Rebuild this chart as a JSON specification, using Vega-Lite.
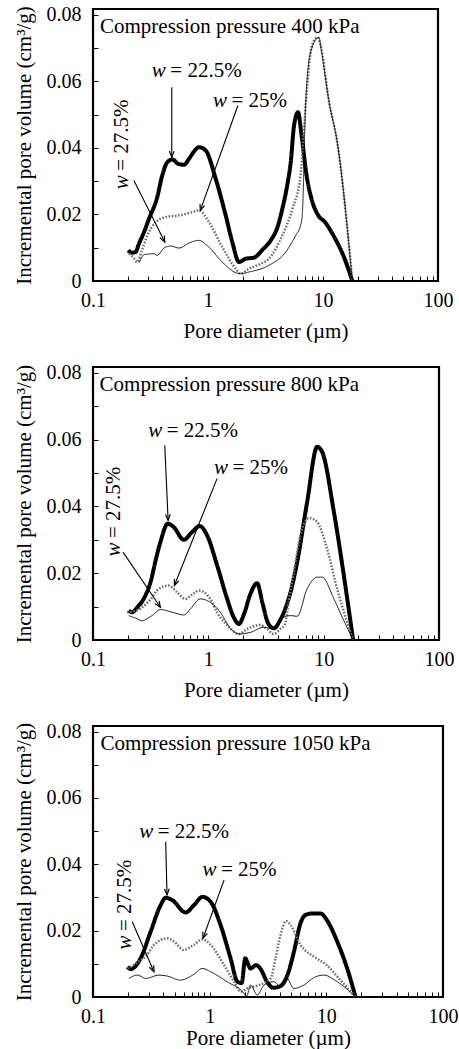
{
  "$schema": "https://vega.github.io/schema/vega-lite/v6.json",
  "background": "white",
  "padding": {"left": 11, "top": 3, "right": 5, "bottom": 5},
  "spacing": 86,
  "bounds": "flush",
  "config": {
    "font": "Liberation Serif",
    "view": {"stroke": "black", "strokeWidth": 2.2},
    "text": {"font": "Liberation Serif", "fontSize": 21, "color": "black"},
    "axis": {"labelFont": "Liberation Serif", "labelFontSize": 20, "labelColor": "black", "titleFont": "Liberation Serif", "titleFontSize": 21, "titleFontWeight": "normal", "titleColor": "black", "tickColor": "black", "tickWidth": 1, "tickSize": -5, "domain": false, "grid": false, "labelFlush": false, "labelOverlap": false},
    "axisX": {"labelPadding": 24, "labelBaseline": "middle", "titlePadding": 10},
    "axisY": {"labelPadding": 17, "titlePadding": 12}
  },
  "datasets": {
    "curves": [
      {"panel":400,"w":"22.5","d":0.202,"v":0.0092},{"panel":400,"w":"22.5","d":0.218,"v":0.0085},{"panel":400,"w":"22.5","d":0.234,"v":0.0087},{"panel":400,"w":"22.5","d":0.251,"v":0.0112},{"panel":400,"w":"22.5","d":0.28,"v":0.015},{"panel":400,"w":"22.5","d":0.307,"v":0.0187},{"panel":400,"w":"22.5","d":0.362,"v":0.0252},{"panel":400,"w":"22.5","d":0.40,"v":0.0317},{"panel":400,"w":"22.5","d":0.443,"v":0.0357},{"panel":400,"w":"22.5","d":0.49,"v":0.0365},{"panel":400,"w":"22.5","d":0.55,"v":0.0352},{"panel":400,"w":"22.5","d":0.618,"v":0.0349},{"panel":400,"w":"22.5","d":0.684,"v":0.0367},{"panel":400,"w":"22.5","d":0.76,"v":0.039},{"panel":400,"w":"22.5","d":0.835,"v":0.0402},{"panel":400,"w":"22.5","d":0.955,"v":0.0392},{"panel":400,"w":"22.5","d":1.167,"v":0.0307},{"panel":400,"w":"22.5","d":1.425,"v":0.0197},{"panel":400,"w":"22.5","d":1.627,"v":0.0117},{"panel":400,"w":"22.5","d":1.86,"v":0.0057},{"panel":400,"w":"22.5","d":2.13,"v":0.0067},{"panel":400,"w":"22.5","d":2.5,"v":0.007},{"panel":400,"w":"22.5","d":3.0,"v":0.0095},{"panel":400,"w":"22.5","d":3.51,"v":0.0122},{"panel":400,"w":"22.5","d":4.0,"v":0.016},{"panel":400,"w":"22.5","d":4.43,"v":0.0217},{"panel":400,"w":"22.5","d":4.9,"v":0.029},{"panel":400,"w":"22.5","d":5.24,"v":0.0357},{"panel":400,"w":"22.5","d":5.6,"v":0.0467},{"panel":400,"w":"22.5","d":6.07,"v":0.0507},{"panel":400,"w":"22.5","d":6.5,"v":0.044},{"panel":400,"w":"22.5","d":7.2,"v":0.0317},{"panel":400,"w":"22.5","d":7.94,"v":0.0247},{"panel":400,"w":"22.5","d":9.1,"v":0.0197},{"panel":400,"w":"22.5","d":10.4,"v":0.0177},{"panel":400,"w":"22.5","d":12.3,"v":0.0137},{"panel":400,"w":"22.5","d":15.0,"v":0.0077},{"panel":400,"w":"22.5","d":18,"v":0},
      {"panel":400,"w":"25","d":0.206,"v":0.0082},{"panel":400,"w":"25","d":0.225,"v":0.007},{"panel":400,"w":"25","d":0.243,"v":0.0057},{"panel":400,"w":"25","d":0.265,"v":0.009},{"panel":400,"w":"25","d":0.297,"v":0.0137},{"panel":400,"w":"25","d":0.351,"v":0.0177},{"panel":400,"w":"25","d":0.429,"v":0.0192},{"panel":400,"w":"25","d":0.56,"v":0.0197},{"panel":400,"w":"25","d":0.70,"v":0.0205},{"panel":400,"w":"25","d":0.835,"v":0.0212},{"panel":400,"w":"25","d":1.02,"v":0.0177},{"panel":400,"w":"25","d":1.33,"v":0.0102},{"panel":400,"w":"25","d":1.74,"v":0.0037},{"panel":400,"w":"25","d":1.92,"v":0.0022},{"panel":400,"w":"25","d":2.27,"v":0.0037},{"panel":400,"w":"25","d":2.8,"v":0.005},{"panel":400,"w":"25","d":3.39,"v":0.0067},{"panel":400,"w":"25","d":4.43,"v":0.0137},{"panel":400,"w":"25","d":5.43,"v":0.0217},{"panel":400,"w":"25","d":6.38,"v":0.0317},{"panel":400,"w":"25","d":6.77,"v":0.0437},{"panel":400,"w":"25","d":7.3,"v":0.0587},{"panel":400,"w":"25","d":8.0,"v":0.0707},{"panel":400,"w":"25","d":8.92,"v":0.0732},{"panel":400,"w":"25","d":9.5,"v":0.071},{"panel":400,"w":"25","d":11.3,"v":0.0537},{"panel":400,"w":"25","d":13.3,"v":0.0417},{"panel":400,"w":"25","d":18,"v":0},
      {"panel":400,"w":"27.5","d":0.251,"v":0.0055},{"panel":400,"w":"27.5","d":0.263,"v":0.0068},{"panel":400,"w":"27.5","d":0.277,"v":0.0079},{"panel":400,"w":"27.5","d":0.339,"v":0.0082},{"panel":400,"w":"27.5","d":0.362,"v":0.0077},{"panel":400,"w":"27.5","d":0.414,"v":0.0099},{"panel":400,"w":"27.5","d":0.473,"v":0.0105},{"panel":400,"w":"27.5","d":0.56,"v":0.0099},{"panel":400,"w":"27.5","d":0.684,"v":0.0114},{"panel":400,"w":"27.5","d":0.835,"v":0.0122},{"panel":400,"w":"27.5","d":0.98,"v":0.0107},{"panel":400,"w":"27.5","d":1.33,"v":0.0057},{"panel":400,"w":"27.5","d":1.74,"v":0.0025},{"panel":400,"w":"27.5","d":1.92,"v":0.0022},{"panel":400,"w":"27.5","d":2.27,"v":0.0027},{"panel":400,"w":"27.5","d":3.39,"v":0.0047},{"panel":400,"w":"27.5","d":4.74,"v":0.0087},{"panel":400,"w":"27.5","d":5.79,"v":0.0137},{"panel":400,"w":"27.5","d":6.38,"v":0.0167},{"panel":400,"w":"27.5","d":6.6,"v":0.0197},{"panel":400,"w":"27.5","d":7.07,"v":0.0537},{"panel":400,"w":"27.5","d":7.8,"v":0.0687},{"panel":400,"w":"27.5","d":9.23,"v":0.0732},{"panel":400,"w":"27.5","d":9.6,"v":0.07},{"panel":400,"w":"27.5","d":11.3,"v":0.0537},{"panel":400,"w":"27.5","d":13.3,"v":0.0417},{"panel":400,"w":"27.5","d":18,"v":0},
      {"panel":800,"w":"22.5","d":0.204,"v":0.0088},{"panel":800,"w":"22.5","d":0.218,"v":0.0083},{"panel":800,"w":"22.5","d":0.245,"v":0.01},{"panel":800,"w":"22.5","d":0.275,"v":0.0123},{"panel":800,"w":"22.5","d":0.318,"v":0.0178},{"panel":800,"w":"22.5","d":0.35,"v":0.024},{"panel":800,"w":"22.5","d":0.384,"v":0.0293},{"panel":800,"w":"22.5","d":0.445,"v":0.0348},{"panel":800,"w":"22.5","d":0.501,"v":0.0338},{"panel":800,"w":"22.5","d":0.612,"v":0.03},{"panel":800,"w":"22.5","d":0.723,"v":0.0323},{"panel":800,"w":"22.5","d":0.843,"v":0.0341},{"panel":800,"w":"22.5","d":0.976,"v":0.0313},{"panel":800,"w":"22.5","d":1.2,"v":0.022},{"panel":800,"w":"22.5","d":1.45,"v":0.0125},{"panel":800,"w":"22.5","d":1.65,"v":0.007},{"panel":800,"w":"22.5","d":1.84,"v":0.0048},{"panel":800,"w":"22.5","d":2.05,"v":0.008},{"panel":800,"w":"22.5","d":2.3,"v":0.0135},{"panel":800,"w":"22.5","d":2.65,"v":0.017},{"panel":800,"w":"22.5","d":2.95,"v":0.011},{"panel":800,"w":"22.5","d":3.3,"v":0.005},{"panel":800,"w":"22.5","d":3.7,"v":0.0035},{"panel":800,"w":"22.5","d":4.2,"v":0.006},{"panel":800,"w":"22.5","d":4.83,"v":0.011},{"panel":800,"w":"22.5","d":5.16,"v":0.0143},{"panel":800,"w":"22.5","d":5.89,"v":0.0233},{"panel":800,"w":"22.5","d":7.19,"v":0.0413},{"panel":800,"w":"22.5","d":8.79,"v":0.0578},{"panel":800,"w":"22.5","d":9.7,"v":0.0563},{"panel":800,"w":"22.5","d":12.27,"v":0.0383},{"panel":800,"w":"22.5","d":14.96,"v":0.0193},{"panel":800,"w":"22.5","d":18,"v":0},
      {"panel":800,"w":"25","d":0.197,"v":0.0083},{"panel":800,"w":"25","d":0.22,"v":0.0085},{"panel":800,"w":"25","d":0.26,"v":0.0095},{"panel":800,"w":"25","d":0.318,"v":0.0123},{"panel":800,"w":"25","d":0.371,"v":0.0153},{"panel":800,"w":"25","d":0.453,"v":0.0163},{"panel":800,"w":"25","d":0.536,"v":0.0143},{"panel":800,"w":"25","d":0.632,"v":0.0123},{"panel":800,"w":"25","d":0.72,"v":0.0135},{"panel":800,"w":"25","d":0.83,"v":0.0148},{"panel":800,"w":"25","d":1.04,"v":0.0123},{"panel":800,"w":"25","d":1.19,"v":0.0083},{"panel":800,"w":"25","d":1.5,"v":0.004},{"panel":800,"w":"25","d":1.84,"v":0.0018},{"panel":800,"w":"25","d":2.17,"v":0.0033},{"panel":800,"w":"25","d":2.83,"v":0.0045},{"panel":800,"w":"25","d":3.22,"v":0.0033},{"panel":800,"w":"25","d":3.7,"v":0.0018},{"panel":800,"w":"25","d":4.2,"v":0.0033},{"panel":800,"w":"25","d":4.6,"v":0.0045},{"panel":800,"w":"25","d":5.0,"v":0.012},{"panel":800,"w":"25","d":5.5,"v":0.02},{"panel":800,"w":"25","d":6.3,"v":0.0313},{"panel":800,"w":"25","d":7.44,"v":0.0365},{"panel":800,"w":"25","d":8.79,"v":0.0353},{"panel":800,"w":"25","d":10.7,"v":0.0273},{"panel":800,"w":"25","d":13.1,"v":0.0153},{"panel":800,"w":"25","d":16.0,"v":0.0053},{"panel":800,"w":"25","d":18,"v":0},
      {"panel":800,"w":"27.5","d":0.204,"v":0.0073},{"panel":800,"w":"27.5","d":0.235,"v":0.0065},{"panel":800,"w":"27.5","d":0.266,"v":0.0058},{"panel":800,"w":"27.5","d":0.325,"v":0.0073},{"panel":800,"w":"27.5","d":0.384,"v":0.0091},{"panel":800,"w":"27.5","d":0.5,"v":0.0082},{"panel":800,"w":"27.5","d":0.612,"v":0.0075},{"panel":800,"w":"27.5","d":0.70,"v":0.0093},{"panel":800,"w":"27.5","d":0.85,"v":0.0123},{"panel":800,"w":"27.5","d":0.977,"v":0.0118},{"panel":800,"w":"27.5","d":1.27,"v":0.0083},{"panel":800,"w":"27.5","d":1.55,"v":0.0035},{"panel":800,"w":"27.5","d":1.84,"v":0.0018},{"panel":800,"w":"27.5","d":2.32,"v":0.0023},{"panel":800,"w":"27.5","d":3.03,"v":0.0038},{"panel":800,"w":"27.5","d":3.7,"v":0.0033},{"panel":800,"w":"27.5","d":4.52,"v":0.0068},{"panel":800,"w":"27.5","d":5.16,"v":0.0073},{"panel":800,"w":"27.5","d":5.89,"v":0.0071},{"panel":800,"w":"27.5","d":7.19,"v":0.0153},{"panel":800,"w":"27.5","d":8.79,"v":0.0188},{"panel":800,"w":"27.5","d":9.7,"v":0.0188},{"panel":800,"w":"27.5","d":12.27,"v":0.0123},{"panel":800,"w":"27.5","d":14.96,"v":0.0058},{"panel":800,"w":"27.5","d":18,"v":0},
      {"panel":1050,"w":"22.5","d":0.197,"v":0.0091},{"panel":1050,"w":"22.5","d":0.21,"v":0.0084},{"panel":1050,"w":"22.5","d":0.256,"v":0.0117},{"panel":1050,"w":"22.5","d":0.312,"v":0.0197},{"panel":1050,"w":"22.5","d":0.38,"v":0.0277},{"panel":1050,"w":"22.5","d":0.42,"v":0.0299},{"panel":1050,"w":"22.5","d":0.478,"v":0.0292},{"panel":1050,"w":"22.5","d":0.622,"v":0.0255},{"panel":1050,"w":"22.5","d":0.734,"v":0.0277},{"panel":1050,"w":"22.5","d":0.866,"v":0.0302},{"panel":1050,"w":"22.5","d":1.02,"v":0.0287},{"panel":1050,"w":"22.5","d":1.24,"v":0.0217},{"panel":1050,"w":"22.5","d":1.51,"v":0.0117},{"panel":1050,"w":"22.5","d":1.73,"v":0.0046},{"panel":1050,"w":"22.5","d":1.88,"v":0.0042},{"panel":1050,"w":"22.5","d":2.02,"v":0.0117},{"panel":1050,"w":"22.5","d":2.1,"v":0.0105},{"panel":1050,"w":"22.5","d":2.24,"v":0.0086},{"panel":1050,"w":"22.5","d":2.5,"v":0.0096},{"panel":1050,"w":"22.5","d":2.74,"v":0.0084},{"panel":1050,"w":"22.5","d":3.1,"v":0.0046},{"panel":1050,"w":"22.5","d":3.5,"v":0.0028},{"panel":1050,"w":"22.5","d":4.05,"v":0.0033},{"panel":1050,"w":"22.5","d":4.64,"v":0.0066},{"panel":1050,"w":"22.5","d":5.28,"v":0.0137},{"panel":1050,"w":"22.5","d":6.0,"v":0.0222},{"panel":1050,"w":"22.5","d":6.6,"v":0.0247},{"panel":1050,"w":"22.5","d":7.6,"v":0.0252},{"panel":1050,"w":"22.5","d":8.9,"v":0.0252},{"panel":1050,"w":"22.5","d":10.1,"v":0.0232},{"panel":1050,"w":"22.5","d":12.4,"v":0.0167},{"panel":1050,"w":"22.5","d":15.1,"v":0.0086},{"panel":1050,"w":"22.5","d":17.8,"v":0},
      {"panel":1050,"w":"25","d":0.197,"v":0.0086},{"panel":1050,"w":"25","d":0.22,"v":0.0095},{"panel":1050,"w":"25","d":0.25,"v":0.011},{"panel":1050,"w":"25","d":0.283,"v":0.0122},{"panel":1050,"w":"25","d":0.333,"v":0.0157},{"panel":1050,"w":"25","d":0.433,"v":0.0177},{"panel":1050,"w":"25","d":0.495,"v":0.0167},{"panel":1050,"w":"25","d":0.60,"v":0.0142},{"panel":1050,"w":"25","d":0.73,"v":0.0157},{"panel":1050,"w":"25","d":0.866,"v":0.0174},{"panel":1050,"w":"25","d":1.02,"v":0.0157},{"panel":1050,"w":"25","d":1.33,"v":0.0096},{"panel":1050,"w":"25","d":1.62,"v":0.0046},{"panel":1050,"w":"25","d":1.84,"v":0.0016},{"panel":1050,"w":"25","d":2.1,"v":0.0026},{"panel":1050,"w":"25","d":2.6,"v":0.0035},{"panel":1050,"w":"25","d":3.33,"v":0.0056},{"panel":1050,"w":"25","d":3.67,"v":0.0117},{"panel":1050,"w":"25","d":4.05,"v":0.0187},{"panel":1050,"w":"25","d":4.5,"v":0.0229},{"panel":1050,"w":"25","d":4.94,"v":0.0217},{"panel":1050,"w":"25","d":6.0,"v":0.0157},{"panel":1050,"w":"25","d":7.8,"v":0.0122},{"panel":1050,"w":"25","d":10.1,"v":0.0096},{"panel":1050,"w":"25","d":13.2,"v":0.0051},{"panel":1050,"w":"25","d":17.8,"v":0},
      {"panel":1050,"w":"27.5","d":0.203,"v":0.0056},{"panel":1050,"w":"27.5","d":0.24,"v":0.0066},{"panel":1050,"w":"27.5","d":0.283,"v":0.0056},{"panel":1050,"w":"27.5","d":0.368,"v":0.0066},{"panel":1050,"w":"27.5","d":0.433,"v":0.0063},{"panel":1050,"w":"27.5","d":0.564,"v":0.0051},{"panel":1050,"w":"27.5","d":0.73,"v":0.0068},{"panel":1050,"w":"27.5","d":0.866,"v":0.0086},{"panel":1050,"w":"27.5","d":1.02,"v":0.0076},{"panel":1050,"w":"27.5","d":1.41,"v":0.0046},{"panel":1050,"w":"27.5","d":1.97,"v":0.0011},{"panel":1050,"w":"27.5","d":2.07,"v":0.0001},{"panel":1050,"w":"27.5","d":2.24,"v":0.0036},{"panel":1050,"w":"27.5","d":2.56,"v":0.0006},{"panel":1050,"w":"27.5","d":2.93,"v":0.0036},{"panel":1050,"w":"27.5","d":3.55,"v":0.0046},{"panel":1050,"w":"27.5","d":4.05,"v":0.0031},{"panel":1050,"w":"27.5","d":4.5,"v":0.0061},{"panel":1050,"w":"27.5","d":5.28,"v":0.0026},{"panel":1050,"w":"27.5","d":6.2,"v":0.0033},{"panel":1050,"w":"27.5","d":8.1,"v":0.0061},{"panel":1050,"w":"27.5","d":9.5,"v":0.0066},{"panel":1050,"w":"27.5","d":12.4,"v":0.0046},{"panel":1050,"w":"27.5","d":17.8,"v":0}
    ],
    "arrows": [
      {"panel":400,"w":"22.5","d":0.484,"v":0.0582,"d2":0.484,"v2":0.0372},
      {"panel":400,"w":"25","d":1.82,"v":0.0527,"d2":0.857,"v2":0.0212},
      {"panel":400,"w":"27.5","d":0.227,"v":0.0302,"d2":0.421,"v2":0.0117},
      {"panel":800,"w":"22.5","d":0.419,"v":0.0583,"d2":0.448,"v2":0.0358},
      {"panel":800,"w":"25","d":1.19,"v":0.0483,"d2":0.508,"v2":0.0163},
      {"panel":800,"w":"27.5","d":0.182,"v":0.0263,"d2":0.384,"v2":0.0098},
      {"panel":1050,"w":"22.5","d":0.42,"v":0.0468,"d2":0.431,"v2":0.0308},
      {"panel":1050,"w":"25","d":1.33,"v":0.0353,"d2":0.877,"v2":0.0177},
      {"panel":1050,"w":"27.5","d":0.217,"v":0.0227,"d2":0.333,"v2":0.0076}
    ],
    "labels": [
      {"panel":400,"w":"22.5","d":0.443,"v":0.0612,"txt":"= 22.5%"},
      {"panel":400,"w":"25","d":1.506,"v":0.0522,"txt":"= 25%"},
      {"panel":400,"w":"27.5","d":0.202,"v":0.0322,"txt":"= 27.5%"},
      {"panel":800,"w":"22.5","d":0.41,"v":0.0608,"txt":"= 22.5%"},
      {"panel":800,"w":"25","d":1.524,"v":0.0498,"txt":"= 25%"},
      {"panel":800,"w":"27.5","d":0.17,"v":0.0296,"txt":"= 27.5%"},
      {"panel":1050,"w":"22.5","d":0.338,"v":0.0478,"txt":"= 22.5%"},
      {"panel":1050,"w":"25","d":1.178,"v":0.0365,"txt":"= 25%"},
      {"panel":1050,"w":"27.5","d":0.213,"v":0.019,"txt":"= 27.5%"}
    ],
    "titles": [
      {"panel":400,"d":0.115,"v":0.0745,"txt":"Compression pressure 400 kPa"},
      {"panel":800,"d":0.114,"v":0.0746,"txt":"Compression pressure 800 kPa"},
      {"panel":1050,"d":0.116,"v":0.0744,"txt":"Compression pressure 1050 kPa"}
    ]
  },
  "vconcat": [
    {
      "width": 345, "height": 272,
      "encoding": {
        "x": {"field": "d", "type": "quantitative", "title": "Pore diameter (µm)", "scale": {"type": "log", "domain": [0.1, 100], "nice": false}, "axis": {"values": [0.1,0.2,0.3,0.4,0.5,0.6,0.7,0.8,0.9,1,2,3,4,5,6,7,8,9,10,20,30,40,50,60,70,80,90,100], "labelExpr": "datum.value == 0.1 ? '0.1' : datum.value == 1 ? '1' : datum.value == 10 ? '10' : datum.value == 100 ? '100' : ''"}},
        "y": {"field": "v", "type": "quantitative", "title": "Incremental pore volume (cm³/g)", "scale": {"domain": [0, 0.0817], "nice": false}, "axis": {"values": [0,0.01,0.02,0.03,0.04,0.05,0.06,0.07,0.08], "labelExpr": "datum.value == 0 ? '0' : datum.value == 0.02 ? '0.02' : datum.value == 0.04 ? '0.04' : datum.value == 0.06 ? '0.06' : datum.value == 0.08 ? '0.08' : ''"}}
      },
      "layer": [
        {"data": {"name": "curves"}, "transform": [{"filter": "datum.panel == 400"}], "mark": {"type": "line", "interpolate": "monotone"},
         "encoding": {
           "color": {"field": "w", "type": "nominal", "scale": {"domain": ["22.5","25","27.5"], "range": ["#000000","#6e6e6e","#000000"]}, "legend": null},
           "strokeWidth": {"field": "w", "type": "nominal", "scale": {"domain": ["22.5","25","27.5"], "range": [4, 0.9, 2.2]}, "legend": null},
           "strokeDash": {"field": "w", "type": "nominal", "scale": {"domain": ["22.5","25","27.5"], "range": [[1,0],[1.6,1.6],[1,0]]}, "legend": null}}},
        {"data": {"name": "arrows"}, "transform": [{"filter": "datum.panel == 400"}], "mark": {"type": "rule", "color": "black", "strokeWidth": 1.1},
         "encoding": {"x2": {"field": "d2"}, "y2": {"field": "v2"}}},
        {"data": {"name": "arrows"}, "transform": [{"filter": "datum.panel == 400"}], "mark": {"type": "point", "shape": "M -0.6 -1.5 L 0 0 L 0.6 -1.5", "filled": false, "color": "black", "strokeWidth": 1.2, "size": 64, "opacity": 1},
         "encoding": {
           "x": {"field": "d2", "type": "quantitative", "title": "Pore diameter (µm)", "scale": {"type": "log", "domain": [0.1, 100], "nice": false}},
           "y": {"field": "v2", "type": "quantitative", "title": "Incremental pore volume (cm³/g)", "scale": {"domain": [0, 0.0817], "nice": false}},
           "angle": {"condition": [{"test": "datum.w == '25'", "value": 19.4}, {"test": "datum.w == '27.5'", "value": -26.6}], "value": 0}}},
        {"data": {"name": "labels"}, "transform": [{"filter": "datum.panel == 400"}], "mark": {"type": "text", "text": "w", "fontStyle": "italic", "align": "right", "baseline": "alphabetic", "dx": -1.5},
         "encoding": {"angle": {"condition": {"test": "datum.w == '27.5'", "value": 270}, "value": 0}}},
        {"data": {"name": "labels"}, "transform": [{"filter": "datum.panel == 400"}], "mark": {"type": "text", "align": "left", "baseline": "alphabetic", "dx": 3},
         "encoding": {"text": {"field": "txt"}, "angle": {"condition": {"test": "datum.w == '27.5'", "value": 270}, "value": 0}}},
        {"data": {"name": "titles"}, "transform": [{"filter": "datum.panel == 400"}], "mark": {"type": "text", "align": "left", "baseline": "alphabetic"},
         "encoding": {"text": {"field": "txt"}}}
      ]
    },
    {
      "width": 346, "height": 273,
      "encoding": {
        "x": {"field": "d", "type": "quantitative", "title": "Pore diameter (µm)", "scale": {"type": "log", "domain": [0.1, 100], "nice": false}, "axis": {"values": [0.1,0.2,0.3,0.4,0.5,0.6,0.7,0.8,0.9,1,2,3,4,5,6,7,8,9,10,20,30,40,50,60,70,80,90,100], "labelExpr": "datum.value == 0.1 ? '0.1' : datum.value == 1 ? '1' : datum.value == 10 ? '10' : datum.value == 100 ? '100' : ''"}},
        "y": {"field": "v", "type": "quantitative", "title": "Incremental pore volume (cm³/g)", "scale": {"domain": [0, 0.0817], "nice": false}, "axis": {"values": [0,0.01,0.02,0.03,0.04,0.05,0.06,0.07,0.08], "labelExpr": "datum.value == 0 ? '0' : datum.value == 0.02 ? '0.02' : datum.value == 0.04 ? '0.04' : datum.value == 0.06 ? '0.06' : datum.value == 0.08 ? '0.08' : ''"}}
      },
      "layer": [
        {"data": {"name": "curves"}, "transform": [{"filter": "datum.panel == 800"}], "mark": {"type": "line", "interpolate": "monotone"},
         "encoding": {
           "color": {"field": "w", "type": "nominal", "scale": {"domain": ["22.5","25","27.5"], "range": ["#000000","#6e6e6e","#000000"]}, "legend": null},
           "strokeWidth": {"field": "w", "type": "nominal", "scale": {"domain": ["22.5","25","27.5"], "range": [4, 0.9, 2.2]}, "legend": null},
           "strokeDash": {"field": "w", "type": "nominal", "scale": {"domain": ["22.5","25","27.5"], "range": [[1,0],[1.6,1.6],[1,0]]}, "legend": null}}},
        {"data": {"name": "arrows"}, "transform": [{"filter": "datum.panel == 800"}], "mark": {"type": "rule", "color": "black", "strokeWidth": 1.1},
         "encoding": {"x2": {"field": "d2"}, "y2": {"field": "v2"}}},
        {"data": {"name": "arrows"}, "transform": [{"filter": "datum.panel == 800"}], "mark": {"type": "point", "shape": "M -0.6 -1.5 L 0 0 L 0.6 -1.5", "filled": false, "color": "black", "strokeWidth": 1.2, "size": 64, "opacity": 1},
         "encoding": {
           "x": {"field": "d2", "type": "quantitative", "title": "Pore diameter (µm)", "scale": {"type": "log", "domain": [0.1, 100], "nice": false}},
           "y": {"field": "v2", "type": "quantitative", "title": "Incremental pore volume (cm³/g)", "scale": {"domain": [0, 0.0817], "nice": false}},
           "angle": {"condition": [{"test": "datum.w == '25'", "value": 21.8}, {"test": "datum.w == '27.5'", "value": -34.2}], "value": -2.5}}},
        {"data": {"name": "labels"}, "transform": [{"filter": "datum.panel == 800"}], "mark": {"type": "text", "text": "w", "fontStyle": "italic", "align": "right", "baseline": "alphabetic", "dx": -1.5},
         "encoding": {"angle": {"condition": {"test": "datum.w == '27.5'", "value": 270}, "value": 0}}},
        {"data": {"name": "labels"}, "transform": [{"filter": "datum.panel == 800"}], "mark": {"type": "text", "align": "left", "baseline": "alphabetic", "dx": 3},
         "encoding": {"text": {"field": "txt"}, "angle": {"condition": {"test": "datum.w == '27.5'", "value": 270}, "value": 0}}},
        {"data": {"name": "titles"}, "transform": [{"filter": "datum.panel == 800"}], "mark": {"type": "text", "align": "left", "baseline": "alphabetic"},
         "encoding": {"text": {"field": "txt"}}}
      ]
    },
    {
      "width": 350, "height": 271,
      "encoding": {
        "x": {"field": "d", "type": "quantitative", "title": "Pore diameter (µm)", "scale": {"type": "log", "domain": [0.1, 100], "nice": false}, "axis": {"titlePadding": 1, "values": [0.1,0.2,0.3,0.4,0.5,0.6,0.7,0.8,0.9,1,2,3,4,5,6,7,8,9,10,20,30,40,50,60,70,80,90,100], "labelExpr": "datum.value == 0.1 ? '0.1' : datum.value == 1 ? '1' : datum.value == 10 ? '10' : datum.value == 100 ? '100' : ''"}},
        "y": {"field": "v", "type": "quantitative", "title": "Incremental pore volume (cm³/g)", "scale": {"domain": [0, 0.0817], "nice": false}, "axis": {"values": [0,0.01,0.02,0.03,0.04,0.05,0.06,0.07,0.08], "labelExpr": "datum.value == 0 ? '0' : datum.value == 0.02 ? '0.02' : datum.value == 0.04 ? '0.04' : datum.value == 0.06 ? '0.06' : datum.value == 0.08 ? '0.08' : ''"}}
      },
      "layer": [
        {"data": {"name": "curves"}, "transform": [{"filter": "datum.panel == 1050"}], "mark": {"type": "line", "interpolate": "monotone"},
         "encoding": {
           "color": {"field": "w", "type": "nominal", "scale": {"domain": ["22.5","25","27.5"], "range": ["#000000","#6e6e6e","#000000"]}, "legend": null},
           "strokeWidth": {"field": "w", "type": "nominal", "scale": {"domain": ["22.5","25","27.5"], "range": [4, 0.9, 2.2]}, "legend": null},
           "strokeDash": {"field": "w", "type": "nominal", "scale": {"domain": ["22.5","25","27.5"], "range": [[1,0],[1.6,1.6],[1,0]]}, "legend": null}}},
        {"data": {"name": "arrows"}, "transform": [{"filter": "datum.panel == 1050"}], "mark": {"type": "rule", "color": "black", "strokeWidth": 1.1},
         "encoding": {"x2": {"field": "d2"}, "y2": {"field": "v2"}}},
        {"data": {"name": "arrows"}, "transform": [{"filter": "datum.panel == 1050"}], "mark": {"type": "point", "shape": "M -0.6 -1.5 L 0 0 L 0.6 -1.5", "filled": false, "color": "black", "strokeWidth": 1.2, "size": 64, "opacity": 1},
         "encoding": {
           "x": {"field": "d2", "type": "quantitative", "title": "Pore diameter (µm)", "scale": {"type": "log", "domain": [0.1, 100], "nice": false}},
           "y": {"field": "v2", "type": "quantitative", "title": "Incremental pore volume (cm³/g)", "scale": {"domain": [0, 0.0817], "nice": false}},
           "angle": {"condition": [{"test": "datum.w == '25'", "value": 19.8}, {"test": "datum.w == '27.5'", "value": -23.4}], "value": -1.8}}},
        {"data": {"name": "labels"}, "transform": [{"filter": "datum.panel == 1050"}], "mark": {"type": "text", "text": "w", "fontStyle": "italic", "align": "right", "baseline": "alphabetic", "dx": -1.5},
         "encoding": {"angle": {"condition": {"test": "datum.w == '27.5'", "value": 270}, "value": 0}}},
        {"data": {"name": "labels"}, "transform": [{"filter": "datum.panel == 1050"}], "mark": {"type": "text", "align": "left", "baseline": "alphabetic", "dx": 3},
         "encoding": {"text": {"field": "txt"}, "angle": {"condition": {"test": "datum.w == '27.5'", "value": 270}, "value": 0}}},
        {"data": {"name": "titles"}, "transform": [{"filter": "datum.panel == 1050"}], "mark": {"type": "text", "align": "left", "baseline": "alphabetic"},
         "encoding": {"text": {"field": "txt"}}}
      ]
    }
  ]
}
